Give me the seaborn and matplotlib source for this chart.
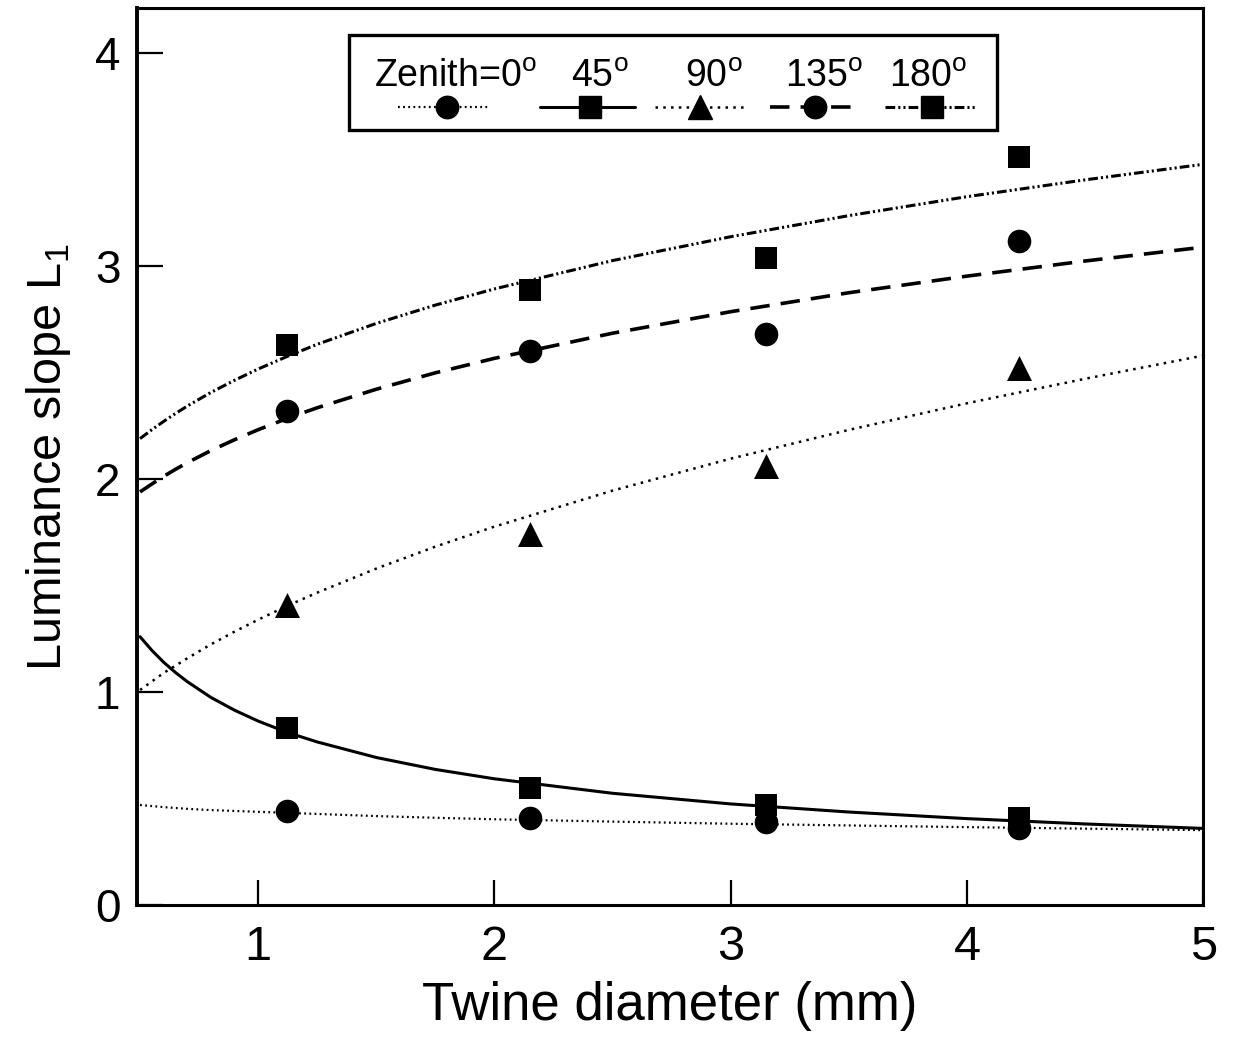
import matplotlib
matplotlib.use("Agg")
import numpy as np
import pandas as pd
import matplotlib.pyplot as plt
from matplotlib.patches import Rectangle
import seaborn as sns

# measured points (twine diameter, luminance slope L1)
twine_mm = [1.12, 2.15, 3.15, 4.22]
zen_0 = [0.44, 0.41, 0.39, 0.36]
zen_45 = [0.83, 0.55, 0.47, 0.41]
zen_90 = [1.41, 1.74, 2.06, 2.52]
zen_135 = [2.32, 2.60, 2.68, 3.12]
zen_180 = [2.63, 2.89, 3.04, 3.51]

# fitted curves
fit_x = [0.5, 0.55, 0.6, 0.65, 0.7, 0.8, 0.9, 1.0, 1.125, 1.25, 1.5, 1.75,
         2.0, 2.5, 3.0, 3.5, 4.0, 4.5, 5.0]
fit_0 = [0.470, 0.465, 0.460, 0.456, 0.452, 0.446, 0.442, 0.438, 0.433, 0.428,
         0.418, 0.410, 0.403, 0.392, 0.382, 0.374, 0.366, 0.359, 0.352]
fit_45 = [1.260, 1.196, 1.140, 1.092, 1.049, 0.975, 0.915, 0.864, 0.810, 0.766,
          0.693, 0.637, 0.593, 0.525, 0.475, 0.437, 0.406, 0.381, 0.360]
fit_90 = [1.010, 1.050, 1.090, 1.124, 1.159, 1.224, 1.284, 1.340, 1.406, 1.467,
          1.580, 1.683, 1.777, 1.946, 2.096, 2.231, 2.356, 2.471, 2.580]
fit_135 = [1.940, 1.977, 2.013, 2.046, 2.077, 2.134, 2.185, 2.232, 2.286, 2.335,
           2.422, 2.499, 2.567, 2.685, 2.786, 2.875, 2.953, 3.024, 3.089]
fit_180 = [2.190, 2.232, 2.271, 2.308, 2.343, 2.407, 2.464, 2.517, 2.577, 2.633,
           2.731, 2.817, 2.893, 3.026, 3.138, 3.237, 3.326, 3.405, 3.478]

labels = ["Zenith=0$^{\\mathrm{o}}$", "45$^{\\mathrm{o}}$", "90$^{\\mathrm{o}}$",
          "135$^{\\mathrm{o}}$", "180$^{\\mathrm{o}}$"]

sns.set_style("ticks")
plt.rcParams["font.family"] = ["Liberation Sans", "DejaVu Sans"]
plt.rcParams["mathtext.fontset"] = "custom"
plt.rcParams["mathtext.rm"] = "Liberation Sans"
plt.rcParams["lines.scale_dashes"] = False
for key in ["text.color", "axes.labelcolor", "xtick.color", "ytick.color", "axes.edgecolor"]:
    plt.rcParams[key] = "black"

styles = [
    dict(marker="o", ms=17, ls=(0, (1.3, 2.4)), lw=1.6),
    dict(marker="s", ms=16, ls="-", lw=2.2),
    dict(marker="^", ms=18, ls=(0, (1.8, 3.8)), lw=1.8),
    dict(marker="o", ms=17, ls=(0, (14, 8)), lw=2.6),
    dict(marker="s", ms=16, ls=(0, (7, 2.2, 1.5, 2.2, 1.5, 2.2)), lw=2.2),
]
points = [zen_0, zen_45, zen_90, zen_135, zen_180]
fits = [fit_0, fit_45, fit_90, fit_135, fit_180]

fig = plt.figure(figsize=(12.34, 10.5), dpi=100)
ax = fig.add_axes([0.111, 0.138, 0.864, 0.854])

for yp, yf, st in zip(points, fits, styles):
    fit_df = pd.DataFrame({"x": fit_x, "y": yf})
    sns.lineplot(data=fit_df, x="x", y="y", ax=ax, color="black",
                 linestyle=st["ls"], linewidth=st["lw"], estimator=None, sort=False)
    pt_df = pd.DataFrame({"x": twine_mm, "y": yp})
    sns.scatterplot(data=pt_df, x="x", y="y", ax=ax, color="black",
                    marker=st["marker"], s=st["ms"] ** 2, linewidth=0, zorder=3)

ax.set_xlim(0.487, 5.0)
ax.set_ylim(0, 4.21)
ax.set_xticks([1, 2, 3, 4, 5])
ax.set_yticks([0, 1, 2, 3, 4])
ax.tick_params(direction="in", width=1.6, length=18, pad=14)
ax.tick_params(axis="y", length=19, pad=12, labelsize=33)
ax.tick_params(axis="x", labelsize=35)
for side in ["left", "right", "top", "bottom"]:
    ax.spines[side].set_linewidth(2.2)
ax.spines["left"].set_linewidth(2.8)

ax.set_xlabel("Twine diameter (mm)", fontsize=38, labelpad=8)
ax.set_ylabel("Luminance slope L$_{\\mathrm{1}}$", fontsize=35, labelpad=16)

# legend box drawn like the original (labels above the samples)
ax.add_patch(Rectangle((0.199, 0.864), 0.608, 0.106, transform=ax.transAxes,
                       facecolor="white", edgecolor="black", lw=2.4, zorder=4))
seg_x = [(0.245, 0.331), (0.378, 0.467), (0.486, 0.570), (0.594, 0.674), (0.702, 0.786)]
mark_x = [0.291, 0.425, 0.528, 0.636, 0.746]
text_x = [0.299, 0.434, 0.541, 0.645, 0.742]
for (x0, x1), mx, tx, lab, st in zip(seg_x, mark_x, text_x, labels, styles):
    ax.plot([x0, x1], [0.890, 0.890], transform=ax.transAxes, color="black",
            linestyle=st["ls"], linewidth=st["lw"], zorder=5)
    ax.plot([mx], [0.890], transform=ax.transAxes, color="black", marker=st["marker"],
            ms=st["ms"] * 0.95, linestyle="none", zorder=6)
    ax.text(tx, 0.912, lab, transform=ax.transAxes, ha="center", va="baseline",
            fontsize=27, zorder=6)

fig.savefig("out.png", dpi=100)
